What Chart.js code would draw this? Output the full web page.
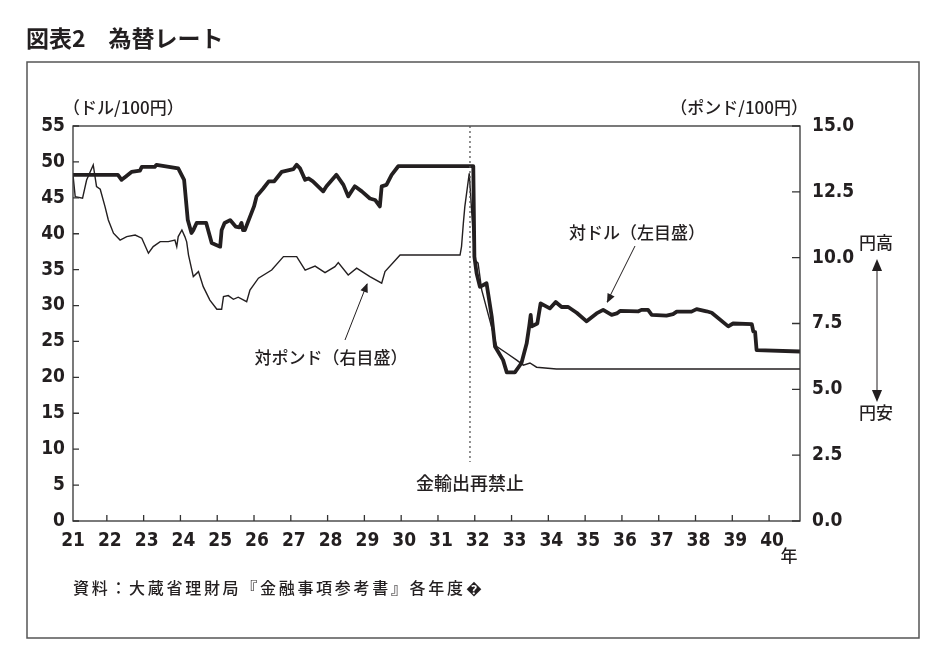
<!DOCTYPE html>
<html>
<head>
<meta charset="utf-8">
<script src="https://cdn.jsdelivr.net/npm/chart.js@4/dist/chart.umd.min.js"></script>
<style>
html, body { margin: 0; padding: 0; background: #fff; }
#wrap { width: 950px; height: 668px; }
</style>
</head>
<body>
<div id="wrap"><canvas id="fx" width="950" height="668"></canvas></div>
<script>
// 対ドル (ドル/100円), left scale
const dollarYears = [21.08, 22.3, 22.4, 22.5, 22.67, 22.9, 22.95, 23.3, 23.35, 23.94, 24.1, 24.2, 24.3, 24.35, 24.44, 24.7, 24.85, 25.08, 25.12, 25.2, 25.35, 25.5, 25.6, 25.66, 25.7, 25.75, 26.0, 26.07, 26.25, 26.4, 26.55, 26.75, 27.07, 27.16, 27.25, 27.39, 27.48, 27.6, 27.88, 27.97, 28.24, 28.43, 28.56, 28.74, 28.93, 29.15, 29.29, 29.42, 29.47, 29.6, 29.74, 29.92, 31.96, 31.99, 32.05, 32.14, 32.32, 32.46, 32.55, 32.77, 32.87, 33.09, 33.27, 33.41, 33.48, 33.52, 33.55, 33.7, 33.79, 34.04, 34.2, 34.36, 34.54, 34.77, 35.04, 35.31, 35.49, 35.72, 35.86, 35.95, 36.45, 36.53, 36.71, 36.81, 37.21, 37.39, 37.49, 37.89, 38.03, 38.3, 38.44, 38.89, 39.02, 39.53, 39.57, 39.62, 39.66, 40.84]
const dollarValues = [48.2, 48.2, 47.5, 47.9, 48.6, 48.8, 49.3, 49.3, 49.6, 49.1, 47.5, 41.9, 40.1, 40.5, 41.5, 41.5, 38.7, 38.2, 40.5, 41.5, 41.9, 41.0, 40.9, 41.5, 40.5, 40.5, 43.8, 45.2, 46.3, 47.3, 47.3, 48.6, 49.0, 49.6, 49.1, 47.5, 47.7, 47.3, 45.9, 46.6, 48.2, 46.8, 45.2, 46.6, 45.9, 44.9, 44.7, 43.8, 46.6, 46.8, 48.2, 49.4, 49.4, 36.8, 34.5, 32.6, 33.1, 28.5, 24.3, 22.4, 20.7, 20.7, 22.0, 24.7, 27.1, 28.7, 27.1, 27.5, 30.3, 29.6, 30.5, 29.8, 29.8, 29.0, 27.8, 28.9, 29.4, 28.7, 28.9, 29.25, 29.2, 29.4, 29.4, 28.7, 28.6, 28.8, 29.15, 29.15, 29.5, 29.2, 29.0, 27.1, 27.5, 27.4, 26.4, 26.3, 23.8, 23.6]

// 対ポンド (ポンド/100円), right scale
const poundYears = [21.08, 21.14, 21.34, 21.45, 21.63, 21.72, 21.82, 21.95, 22.04, 22.18, 22.36, 22.54, 22.77, 22.95, 23.13, 23.26, 23.45, 23.67, 23.85, 23.9, 23.94, 24.04, 24.12, 24.17, 24.22, 24.35, 24.49, 24.62, 24.8, 24.99, 25.12, 25.17, 25.3, 25.44, 25.57, 25.8, 25.89, 26.12, 26.48, 26.8, 27.16, 27.39, 27.66, 27.93, 28.2, 28.29, 28.56, 28.79, 29.15, 29.47, 29.56, 29.97, 31.6, 31.64, 31.69, 31.73, 31.85, 32.0, 32.09, 32.19, 32.6, 32.87, 33.14, 33.32, 33.5, 33.68, 34.22, 40.84]
const poundValues = [13.14, 12.32, 12.26, 12.95, 13.52, 12.7, 12.6, 11.94, 11.43, 10.93, 10.67, 10.8, 10.86, 10.74, 10.17, 10.42, 10.61, 10.61, 10.67, 10.42, 10.8, 11.05, 10.8, 10.6, 10.1, 9.28, 9.47, 8.9, 8.39, 8.04, 8.04, 8.52, 8.56, 8.42, 8.5, 8.33, 8.77, 9.22, 9.53, 10.04, 10.04, 9.53, 9.68, 9.43, 9.66, 9.81, 9.34, 9.6, 9.28, 9.03, 9.47, 10.1, 10.1, 10.42, 11.31, 11.94, 13.2, 9.91, 9.79, 8.77, 6.62, 6.37, 6.11, 5.92, 6.0, 5.84, 5.77, 5.77]

const yearTicks = [21, 22, 23, 24, 25, 26, 27, 28, 29, 30, 31, 32, 33, 34, 35, 36, 37, 38, 39, 40]
const dollarTicks = [0, 5, 10, 15, 20, 25, 30, 35, 40, 45, 50, 55]
const poundTicks = [0, 2.5, 5, 7.5, 10, 12.5, 15]
const embargoYear = 31.87

const NUM_FONT = `"DejaVu Sans", sans-serif`
const NUM_WEIGHT = `bold condensed`
const JP_FONT = `"Noto Sans CJK JP", sans-serif`
const INK = `#231f20`

function toPoints(xs, ys) {
    return xs.map((x, i) => ({ x: x, y: ys[i] }))
}

function arrowHead(ctx, x1, y1, x2, y2, size) {
    const a = Math.atan2(y2 - y1, x2 - x1)
    ctx.beginPath()
    ctx.moveTo(x2, y2)
    ctx.lineTo(x2 - size * Math.cos(a - 0.4), y2 - size * Math.sin(a - 0.4))
    ctx.lineTo(x2 - size * Math.cos(a + 0.4), y2 - size * Math.sin(a + 0.4))
    ctx.closePath()
    ctx.fill()
}

const decor = {
    id: `decor`,
    beforeDraw(chart) {
        const ctx = chart.ctx
        ctx.save()
        ctx.fillStyle = `#fff`
        ctx.fillRect(0, 0, chart.width, chart.height)
        ctx.restore()
    },
    afterDraw(chart) {
        const ctx = chart.ctx
        const a = chart.chartArea
        const x = chart.scales.x
        const y = chart.scales.y
        const y2 = chart.scales.y2
        ctx.save()

        // plot box
        ctx.strokeStyle = `#333`
        ctx.lineWidth = 1.3
        ctx.strokeRect(a.left, a.top, a.right - a.left, a.bottom - a.top)

        // inward ticks
        ctx.beginPath()
        yearTicks.forEach(v => {
            const px = x.getPixelForValue(v)
            if (px < a.left || px > a.right) return
            ctx.moveTo(px, a.bottom)
            ctx.lineTo(px, a.bottom - 6)
        })
        dollarTicks.forEach(v => {
            const py = y.getPixelForValue(v)
            ctx.moveTo(a.left, py)
            ctx.lineTo(a.left + 6, py)
        })
        poundTicks.forEach(v => {
            const py = y2.getPixelForValue(v)
            ctx.moveTo(a.right, py)
            ctx.lineTo(a.right - 8, py)
        })
        ctx.stroke()

        // 金輸出再禁止 dotted line
        const ex = x.getPixelForValue(embargoYear)
        ctx.setLineDash([2, 3])
        ctx.strokeStyle = `#555`
        ctx.lineWidth = 1.3
        ctx.beginPath()
        ctx.moveTo(ex, a.top)
        ctx.lineTo(ex, y.getPixelForValue(8.2))
        ctx.stroke()
        ctx.setLineDash([])

        ctx.fillStyle = INK
        ctx.textBaseline = `middle`

        // title
        ctx.font = `bold 23px ${JP_FONT}`
        ctx.textAlign = `left`
        ctx.fillText(`図表2　為替レート`, 26, 38)

        // axis units
        ctx.font = `500 17px ${JP_FONT}`
        ctx.fillText(`（ドル/100円）`, 63, 108)
        ctx.textAlign = `right`
        ctx.fillText(`（ポンド/100円）`, 808, 108)

        // annotations
        ctx.textAlign = `center`
        ctx.font = `500 17px ${JP_FONT}`
        ctx.fillText(`対ドル（左目盛）`, 637, 233)
        ctx.fillText(`対ポンド（右目盛）`, 331, 358)
        ctx.font = `500 18px ${JP_FONT}`
        ctx.fillText(`金輸出再禁止`, 470, 483)

        ctx.strokeStyle = INK
        ctx.lineWidth = 1
        ctx.beginPath()
        ctx.moveTo(635, 246)
        ctx.lineTo(607, 302)
        ctx.moveTo(345, 340)
        ctx.lineTo(367, 284)
        ctx.stroke()
        arrowHead(ctx, 635, 246, 607, 303, 10)
        arrowHead(ctx, 345, 340, 367.5, 283, 10)

        // 円高 / 円安 arrow
        ctx.beginPath()
        ctx.moveTo(877, 268)
        ctx.lineTo(877, 392)
        ctx.stroke()
        arrowHead(ctx, 877, 300, 877, 259, 13)
        arrowHead(ctx, 877, 360, 877, 402, 13)
        ctx.font = `500 17px ${JP_FONT}`
        ctx.fillText(`円高`, 876, 243)
        ctx.fillText(`円安`, 876, 413)

        // 年
        ctx.fillText(`年`, 789, 556)

        // source
        ctx.textAlign = `left`
        ctx.font = `500 16px ${JP_FONT}`
        ctx.letterSpacing = `2.7px`
        ctx.fillText(`資料：大蔵省理財局『金融事項参考書』各年度�`, 73, 588)
        ctx.letterSpacing = `0px`

        // outer frame
        ctx.strokeStyle = `#555`
        ctx.lineWidth = 1.5
        ctx.strokeRect(27, 62, 892, 576)
        ctx.restore()
    }
}

const tickFont = { family: NUM_FONT, size: 19, weight: NUM_WEIGHT }

new Chart(document.getElementById(`fx`), {
    type: `line`,
    data: {
        datasets: [{
            label: `対ポンド`,
            data: toPoints(poundYears, poundValues),
            yAxisID: `y2`,
            borderColor: INK,
            borderWidth: 1.4,
            pointRadius: 0,
            tension: 0
        }, {
            label: `対ドル`,
            data: toPoints(dollarYears, dollarValues),
            yAxisID: `y`,
            borderColor: INK,
            borderWidth: 3.8,
            borderJoinStyle: `round`,
            pointRadius: 0,
            tension: 0
        }]
    },
    options: {
        responsive: false,
        animation: false,
        devicePixelRatio: 1,
        layout: { padding: { top: 126, left: 0, right: 0, bottom: 0 } },
        plugins: { legend: { display: false }, tooltip: { enabled: false } },
        scales: {
            x: {
                type: `linear`,
                position: `bottom`,
                min: 21.08,
                max: 40.84,
                grid: { display: false, drawTicks: false },
                border: { display: false },
                afterBuildTicks: s => { s.ticks = yearTicks.map(v => ({ value: v })) },
                afterFit: s => { s.height = 147 },
                ticks: {
                    autoSkip: false,
                    maxRotation: 0,
                    padding: 9,
                    labelOffset: 3,
                    color: INK,
                    font: tickFont,
                    callback: v => String(v)
                }
            },
            y: {
                type: `linear`,
                position: `left`,
                min: 0,
                max: 55,
                grid: { display: false, drawTicks: false },
                border: { display: false },
                afterBuildTicks: s => { s.ticks = dollarTicks.map(v => ({ value: v })) },
                afterFit: s => { s.width = 73 },
                ticks: {
                    padding: 8,
                    color: INK,
                    font: tickFont,
                    callback: v => String(v)
                }
            },
            y2: {
                type: `linear`,
                position: `right`,
                min: 0,
                max: 15,
                grid: { display: false, drawTicks: false },
                border: { display: false },
                afterBuildTicks: s => { s.ticks = poundTicks.map(v => ({ value: v })) },
                afterFit: s => { s.width = 150 },
                ticks: {
                    padding: 12,
                    color: INK,
                    font: tickFont,
                    callback: v => v.toFixed(1)
                }
            }
        }
    },
    plugins: [decor]
})
</script>
</body>
</html>
